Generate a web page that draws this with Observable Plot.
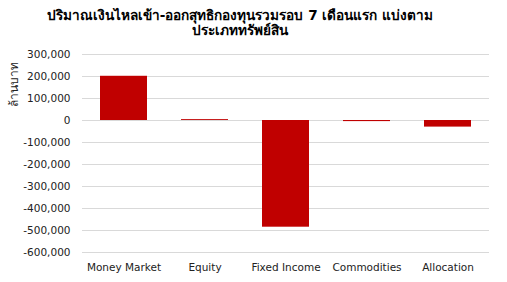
<!DOCTYPE html>
<html><head><meta charset="utf-8">
<script src="https://cdn.jsdelivr.net/npm/d3@7"></script>
<script src="https://cdn.jsdelivr.net/npm/@observablehq/plot@0.6"></script>
<style>
body{margin:0;background:#fff;font-family:Tahoma,"DejaVu Sans",sans-serif;}
#title{width:480px;height:42px;box-sizing:border-box;padding-top:8px;text-align:center;font-weight:bold;font-size:13.6px;line-height:15px;color:#000;}
</style></head>
<body>
<div id="title">ปริมาณเงินไหลเข้า-ออกสุทธิกองทุนรวมรอบ 7 เดือนแรก แบ่งตาม<br>ประเภททรัพย์สิน</div>
<div id="chart"></div>
<script>
const categories = ["Money Market","Equity","Fixed Income","Commodities","Allocation"];
const values = [201000, 4000, -485000, -5000, -30000];
const yTicks = [300000,200000,100000,0,-100000,-200000,-300000,-400000,-500000,-600000];
const yLabel = "ล้านบาท";

const data = categories.map((c,i)=>({category:c, value:values[i]}));
const fmt = d => d3.format(",")(d).replace("\u2212", "-");
const chart = Plot.plot({
  width: 507, height: 240,
  marginTop: 12, marginBottom: 30, marginLeft: 82, marginRight: 18,
  style: {fontFamily: "'DejaVu Sans', sans-serif", fontSize: "10.5px", color: "#222", overflow: "visible"},
  x: {domain: categories, paddingInner: 0.42, paddingOuter: 0.21, label: null},
  y: {domain: [-600000, 300000], label: null},
  marks: [
    Plot.ruleY(yTicks, {stroke: "#d9d9d9", strokeWidth: 1}),
    Plot.barY(data, {x: "category", y: "value", fill: "#c00000"}),
    Plot.axisY(yTicks, {tickSize: 0, tickPadding: 12, tickFormat: fmt, label: null}),
    Plot.axisX({tickSize: 0, tickPadding: 11, label: null})
  ]
});
d3.select(chart).append("text")
  .attr("transform", "translate(18,42) rotate(-90)")
  .attr("text-anchor", "middle")
  .attr("font-size", 12)
  .attr("fill", "#222")
  .text(yLabel);
document.getElementById("chart").appendChild(chart);
</script>
</body></html>
